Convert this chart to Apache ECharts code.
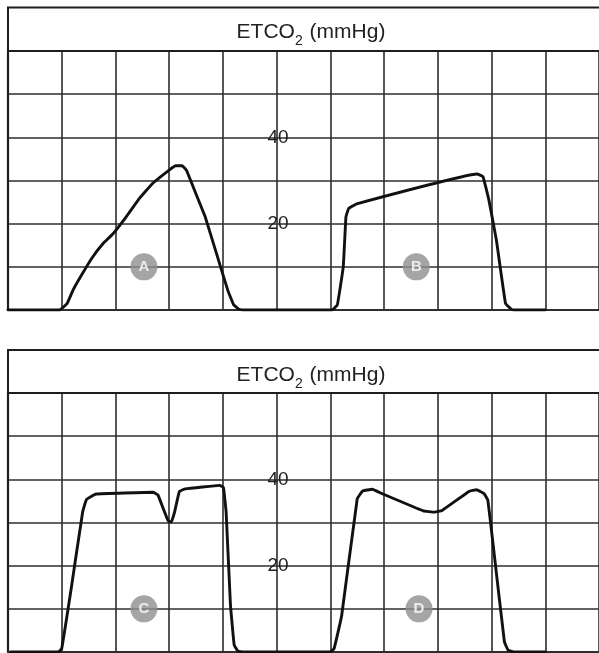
<!DOCTYPE html>
<html><head><meta charset="utf-8">
<script src="https://cdn.jsdelivr.net/npm/echarts@6/dist/echarts.min.js"></script>
<style>html,body{margin:0;padding:0;background:#fff}#c{width:599px;height:653px}</style>
</head><body><div id="c"></div>
<script>
// Time in grid columns, ETCO2 in mmHg
const waveTop = [[0,0],[0.96,0],[1.1,1.5],[1.21,4.6],[1.35,7.7],[1.56,12],[1.77,15.4],[1.95,17.6],[2.2,21.6],[2.45,25.9],[2.69,29.3],[3.0,32.4],[3.12,33.4],[3.24,33.4],[3.32,32.4],[3.47,27.8],[3.67,21.6],[3.88,13.1],[4.09,4.6],[4.2,1.2],[4.3,0.15],[4.44,0],[6.03,0],[6.13,1.2],[6.24,10],[6.29,21.6],[6.34,23.5],[6.49,24.6],[8.73,31.5],[8.84,30.9],[8.95,25.5],[9.09,16.2],[9.26,1.5],[9.37,0.15],[9.44,0],[10.0,0]];
const waveBottom = [[0.05,0],[0.94,0],[1.0,0.8],[1.18,15],[1.39,32.5],[1.46,35.3],[1.64,36.6],[2.7,37],[2.79,36.4],[2.89,33.2],[2.98,30.4],[3.04,30.1],[3.1,32.4],[3.19,37.2],[3.3,37.8],[3.94,38.6],[4.01,38.1],[4.06,32.4],[4.14,11.0],[4.21,1.6],[4.28,0.2],[4.39,0],[6.0,0],[6.07,0.8],[6.21,8.4],[6.5,35.5],[6.6,37.3],[6.78,37.7],[6.96,36.7],[7.73,32.7],[7.94,32.4],[8.08,32.8],[8.58,37.2],[8.72,37.6],[8.86,36.7],[8.93,35.2],[9.03,24.8],[9.24,2.3],[9.31,0.4],[9.41,0],[10.0,0]];
const markersTop = [['A',2.53,10],['B',7.6,10]];
const markersBottom = [['C',2.53,10],['D',7.65,10]];
const tickLabels = {20:'20',40:'40'};
const titleText = ['ETCO','2',' (mmHg)'];

const gridColor = '#2e2e2e';
const FONT = 'Liberation Sans, Arial, sans-serif';
const panels = [{top:51, titleTop:7.5}, {top:393, titleTop:350}];
const chart = echarts.init(document.getElementById('c'));
const grids=[], xAxes=[], yAxes=[], series=[], titles=[], graphics=[];
const waves=[waveTop, waveBottom], marks=[markersTop, markersBottom];
panels.forEach((p,i)=>{
  grids.push({left:8, top:p.top, width:597.3, height:259});
  xAxes.push({type:'value', gridIndex:i, min:0, max:11, interval:1,
    axisLine:{show:true, onZero:false, lineStyle:{color:gridColor,width:2}},
    axisTick:{show:false}, axisLabel:{show:false},
    splitLine:{show:true, lineStyle:{color:gridColor,width:1.6}}});
  yAxes.push({type:'value', gridIndex:i, min:0, max:60, interval:10,
    axisLine:{show:true, lineStyle:{color:'#1e1e1e',width:2.2}},
    axisTick:{show:false}, axisLabel:{show:false},
    splitLine:{show:true, lineStyle:{color:gridColor,width:1.6}}});
  yAxes.push({type:'value', gridIndex:i, min:0, max:60, interval:10, position:'left', offset:-270,
    axisLine:{show:false}, axisTick:{show:false}, splitLine:{show:false},
    axisLabel:{show:true, margin:0, align:'center', padding:[7,0,0,0],
      color:'#1e1e1e', fontSize:19, fontFamily:FONT,
      formatter:v=>tickLabels[v]||''}});
  series.push({type:'line', xAxisIndex:i, yAxisIndex:i*2, data:waves[i], smooth:0.08,
    showSymbol:false, lineStyle:{color:'#111', width:2.9, join:'round', cap:'round'}, z:5, silent:true});
  series.push({type:'scatter', xAxisIndex:i, yAxisIndex:i*2, symbolSize:27,
    data:marks[i].map(m=>({name:m[0], value:[m[1],m[2]]})),
    itemStyle:{color:'#8f8f8f'}, z:6,
    label:{show:true, position:'inside', formatter:'{b}', color:'#fff', fontWeight:'bold',
      fontSize:15, fontFamily:FONT}});
  titles.push({text:'{a|'+titleText[0]+'}{s|'+titleText[1]+'}{a|'+titleText[2]+'}',
    left:306, textAlign:'center', top:p.titleTop+7,
    textStyle:{fontWeight:'normal', rich:{
      a:{fontSize:21, fontWeight:'normal', color:'#222', fontFamily:FONT, lineHeight:26, verticalAlign:'middle'},
      s:{fontSize:14, fontWeight:'normal', color:'#222', fontFamily:FONT, lineHeight:26, verticalAlign:'bottom', padding:[0,1,-3,0]}}}});
  graphics.push({type:'rect', shape:{x:8, y:p.titleTop, width:620, height:p.top-p.titleTop},
    style:{fill:'none', stroke:'#1e1e1e', lineWidth:2}, z:10});
});
chart.setOption({animation:false, title:titles, grid:grids, xAxis:xAxes, yAxis:yAxes, series:series, graphic:graphics});
</script></body></html>
